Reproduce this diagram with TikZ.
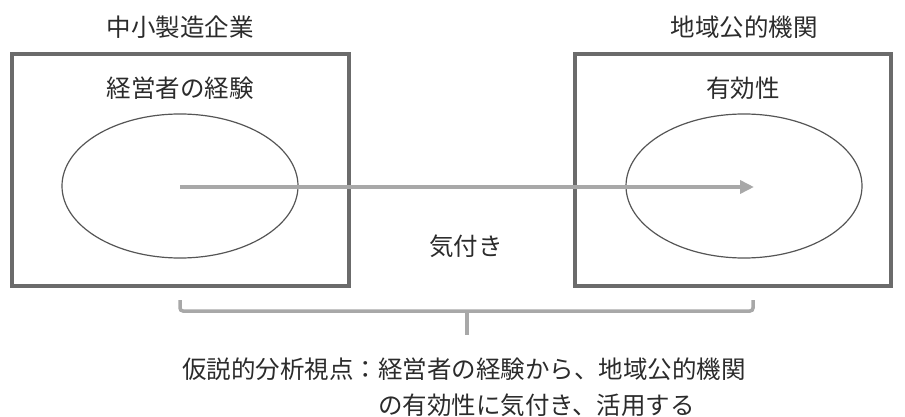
\documentclass[tikz,border=0pt]{standalone}
\usepackage{fontspec}
\setmainfont{Noto Sans CJK JP}
\usetikzlibrary{arrows.meta}
\definecolor{boxgray}{HTML}{6B6B6B}
\definecolor{ellgray}{HTML}{555555}
\definecolor{arrgray}{HTML}{A8A8A8}
\definecolor{txt}{HTML}{2B2B2B}
\tikzset{
  box/.style={draw=boxgray, line width=4pt},
  ell/.style={draw=ellgray, line width=1.2pt},
  lbl/.style={text=txt, font=\fontsize{24.5}{30}\selectfont, inner sep=0pt},
  flow/.style={draw=arrgray, line width=4pt, -{Triangle[length=14pt,width=13pt]}},
  brace/.style={draw=arrgray, line width=3.5pt, rounded corners=3pt}
}
\begin{document}
\begin{tikzpicture}[x=1pt,y=-1pt]
\useasboundingbox (0,0) rectangle (905,417);
% boxes
\draw[box] (12,54) rectangle (349,286);
\draw[box] (575,54) rectangle (891,286);
% ellipses
\draw[ell] (180,186) ellipse [x radius=118, y radius=72];
\draw[ell] (744,186) ellipse [x radius=118, y radius=72];
% centres
\coordinate (c1) at (180,187);
\coordinate (c2) at (754,187);
\draw[flow] (c1) -- (c2);
% titles
\node[lbl] (t1) at (180,27) {中小製造企業};
\node[lbl] (t2) at (744,27) {地域公的機関};
\node[lbl] (e1) at (180,88.5) {経営者の経験};
\node[lbl] (e2) at (743,88) {有効性};
\node[lbl] (k) at (466,246) {気付き};
% brace
\coordinate (bl) at (180,300);
\coordinate (br) at (753,300);
\coordinate (bm) at (467,311);
\coordinate (bs) at (467,335);
\draw[brace] (bl) |- (bm) -| (br);
\draw[arrgray, line width=3.5pt] (bm) -- (bs);
% bottom text
\node[lbl, anchor=west] (h1) at (182,369) {仮説的分析視点：経営者の経験から、地域公的機関};
\node[lbl, anchor=west] (h2) at (378,405) {の有効性に気付き、活用する};
\end{tikzpicture}
\end{document}
